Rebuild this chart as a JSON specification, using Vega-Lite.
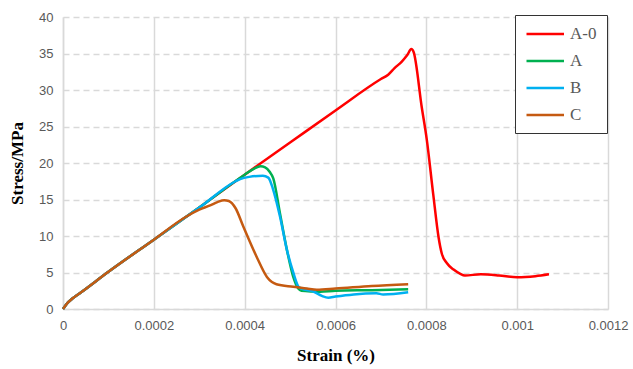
{
  "$schema": "https://vega.github.io/schema/vega-lite/v6.json",
  "width": 545,
  "height": 292,
  "autosize": "none",
  "padding": {"left": 63, "top": 17, "right": 25, "bottom": 60},
  "background": "white",
  "config": {"view": {"stroke": null}},
  "data": {"values": [
    {"s":"A-0","x":0,"y":0},{"s":"A-0","x":0.00001,"y":0.85},{"s":"A-0","x":0.00002,"y":1.4},{"s":"A-0","x":0.00004,"y":2.3},{"s":"A-0","x":0.0001,"y":5.1},{"s":"A-0","x":0.0002,"y":9.5},{"s":"A-0","x":0.0003,"y":13.9},{"s":"A-0","x":0.0004,"y":18.4},{"s":"A-0","x":0.0005,"y":22.8},{"s":"A-0","x":0.0006,"y":27.2},{"s":"A-0","x":0.0007,"y":31.5},{"s":"A-0","x":0.000716,"y":32.1},{"s":"A-0","x":0.00073,"y":33.0},{"s":"A-0","x":0.000746,"y":33.9},{"s":"A-0","x":0.000758,"y":34.8},{"s":"A-0","x":0.000767,"y":35.6},{"s":"A-0","x":0.000772,"y":35.2},{"s":"A-0","x":0.00079,"y":27.6},{"s":"A-0","x":0.000801,"y":23.2},{"s":"A-0","x":0.000815,"y":15.8},{"s":"A-0","x":0.000827,"y":9.8},{"s":"A-0","x":0.000834,"y":7.6},{"s":"A-0","x":0.000845,"y":6.3},{"s":"A-0","x":0.00086,"y":5.4},{"s":"A-0","x":0.000874,"y":4.85},{"s":"A-0","x":0.000885,"y":4.6},{"s":"A-0","x":0.00092,"y":4.75},{"s":"A-0","x":0.00096,"y":4.6},{"s":"A-0","x":0.001,"y":4.35},{"s":"A-0","x":0.00104,"y":4.5},{"s":"A-0","x":0.00107,"y":4.75},
    {"s":"A","x":0,"y":0},{"s":"A","x":0.00001,"y":0.85},{"s":"A","x":0.00002,"y":1.4},{"s":"A","x":0.00004,"y":2.3},{"s":"A","x":0.0001,"y":5.1},{"s":"A","x":0.0002,"y":9.5},{"s":"A","x":0.0003,"y":13.9},{"s":"A","x":0.0004,"y":18.4},{"s":"A","x":0.00042,"y":19.2},{"s":"A","x":0.000435,"y":19.55},{"s":"A","x":0.000445,"y":19.4},{"s":"A","x":0.000455,"y":18.8},{"s":"A","x":0.000463,"y":17.9},{"s":"A","x":0.000478,"y":13.0},{"s":"A","x":0.000493,"y":8.1},{"s":"A","x":0.000507,"y":4.4},{"s":"A","x":0.000518,"y":2.8},{"s":"A","x":0.000525,"y":2.5},{"s":"A","x":0.00055,"y":2.4},{"s":"A","x":0.000566,"y":2.37},{"s":"A","x":0.0006,"y":2.5},{"s":"A","x":0.00068,"y":2.58},{"s":"A","x":0.00076,"y":2.7},
    {"s":"B","x":0,"y":0},{"s":"B","x":0.00001,"y":0.85},{"s":"B","x":0.00002,"y":1.4},{"s":"B","x":0.00004,"y":2.3},{"s":"B","x":0.0001,"y":5.1},{"s":"B","x":0.0002,"y":9.5},{"s":"B","x":0.0003,"y":13.9},{"s":"B","x":0.00038,"y":17.5},{"s":"B","x":0.00039,"y":17.8},{"s":"B","x":0.00041,"y":18.1},{"s":"B","x":0.00044,"y":18.25},{"s":"B","x":0.000452,"y":18.0},{"s":"B","x":0.000462,"y":16.5},{"s":"B","x":0.000478,"y":12.6},{"s":"B","x":0.000493,"y":8.1},{"s":"B","x":0.000507,"y":5.0},{"s":"B","x":0.000518,"y":3.1},{"s":"B","x":0.000525,"y":2.8},{"s":"B","x":0.000551,"y":2.4},{"s":"B","x":0.00057,"y":1.8},{"s":"B","x":0.000584,"y":1.55},{"s":"B","x":0.0006,"y":1.7},{"s":"B","x":0.00064,"y":2.0},{"s":"B","x":0.00069,"y":2.15},{"s":"B","x":0.000705,"y":2.0},{"s":"B","x":0.00076,"y":2.3},
    {"s":"C","x":0,"y":0},{"s":"C","x":0.00001,"y":0.85},{"s":"C","x":0.00002,"y":1.4},{"s":"C","x":0.00004,"y":2.3},{"s":"C","x":0.0001,"y":5.1},{"s":"C","x":0.0002,"y":9.5},{"s":"C","x":0.00027,"y":12.6},{"s":"C","x":0.0003,"y":13.6},{"s":"C","x":0.000324,"y":14.2},{"s":"C","x":0.00034,"y":14.65},{"s":"C","x":0.000355,"y":14.9},{"s":"C","x":0.000365,"y":14.8},{"s":"C","x":0.00038,"y":13.8},{"s":"C","x":0.000397,"y":11.3},{"s":"C","x":0.000426,"y":7.2},{"s":"C","x":0.000449,"y":4.4},{"s":"C","x":0.00046,"y":3.7},{"s":"C","x":0.00047,"y":3.4},{"s":"C","x":0.000507,"y":3.05},{"s":"C","x":0.000537,"y":2.8},{"s":"C","x":0.000559,"y":2.65},{"s":"C","x":0.0006,"y":2.8},{"s":"C","x":0.00068,"y":3.15},{"s":"C","x":0.00076,"y":3.4}
  ]},
  "mark": {"type": "line", "strokeWidth": 2.5, "interpolate": "monotone"},
  "encoding": {
    "x": {
      "field": "x", "type": "quantitative",
      "scale": {"domain": [0, 0.0012], "nice": false, "zero": true},
      "axis": {
        "values": [0, 0.0002, 0.0004, 0.0006, 0.0008, 0.001, 0.0012],
        "labelExpr": "format(datum.value, '.4~f')",
        "labelFlush": false,
        "title": "Strain (%)",
        "titleFont": "Liberation Serif", "titleFontSize": 17, "titleFontWeight": "bold", "titleColor": "#000000",
        "titlePadding": 15,
        "labelFont": "Liberation Sans", "labelFontSize": 13, "labelColor": "#595959", "labelPadding": 10,
        "ticks": false,
        "domainColor": "#d9d9d9", "domainWidth": 1.5,
        "grid": true, "gridColor": "#d9d9d9", "gridWidth": 1.5
      }
    },
    "y": {
      "field": "y", "type": "quantitative",
      "scale": {"domain": [0, 40], "nice": false},
      "axis": {
        "values": [0, 5, 10, 15, 20, 25, 30, 35, 40],
        "title": "Stress/MPa",
        "titleFont": "Liberation Serif", "titleFontSize": 17, "titleFontWeight": "bold", "titleColor": "#000000",
        "titlePadding": 12,
        "labelFont": "Liberation Sans", "labelFontSize": 13, "labelColor": "#595959", "labelPadding": 10,
        "ticks": false,
        "domainColor": "#d9d9d9", "domainWidth": 1.5,
        "grid": true, "gridColor": "#d9d9d9", "gridWidth": 1.5, "gridDash": [6, 4]
      }
    },
    "color": {
      "field": "s", "type": "nominal",
      "scale": {"domain": ["A-0", "A", "B", "C"], "range": ["#ff0000", "#00b050", "#00b0f0", "#c55a11"]},
      "legend": {
        "title": null,
        "orient": "none",
        "legendX": 452,
        "legendY": -2,
        "direction": "vertical",
        "strokeColor": "#333333",
        "fillColor": "white",
        "padding": 10,
        "symbolType": "M-1,0H4",
        "symbolSize": 225,
        "symbolStrokeWidth": 2.5,
        "labelFont": "Liberation Serif",
        "labelFontSize": 17,
        "labelColor": "#595959",
        "labelOffset": 27,
        "labelLimit": 200,
        "rowPadding": 10
      }
    }
  }
}
